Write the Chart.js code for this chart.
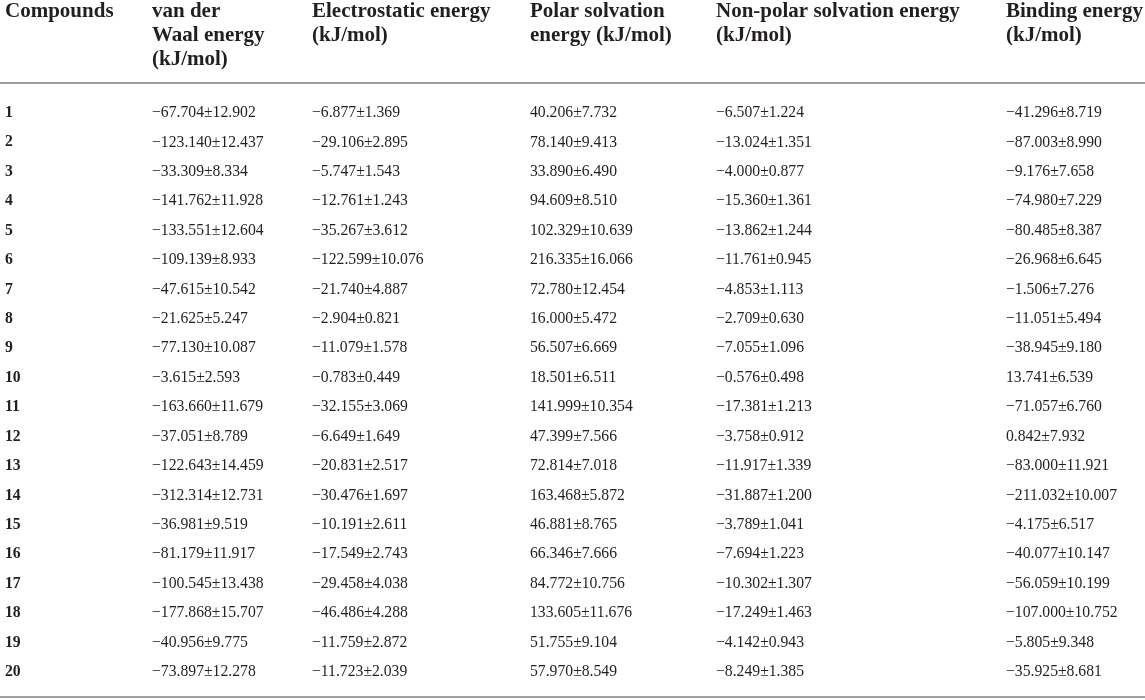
<!DOCTYPE html>
<html>
<head>
<meta charset="utf-8">
<script src="https://cdn.jsdelivr.net/npm/chart.js@4/dist/chart.umd.min.js"></script>
<style>
  html, body { margin: 0; padding: 0; background: #fff; }
  canvas { display: block; }
</style>
</head>
<body>
<canvas id="table-chart" width="1145" height="700"></canvas>
<script>
// Datos de la tabla
const compounds = ['1','2','3','4','5','6','7','8','9','10','11','12','13','14','15','16','17','18','19','20'];

const headers = [
  ['Compounds'],
  ['van der', 'Waal energy', '(kJ/mol)'],
  ['Electrostatic energy', '(kJ/mol)'],
  ['Polar solvation', 'energy (kJ/mol)'],
  ['Non-polar solvation energy', '(kJ/mol)'],
  ['Binding energy', '(kJ/mol)']
];

const vdwMean = [-67.704, -123.140, -33.309, -141.762, -133.551, -109.139, -47.615, -21.625, -77.130, -3.615,
  -163.660, -37.051, -122.643, -312.314, -36.981, -81.179, -100.545, -177.868, -40.956, -73.897];
const vdwSd = [12.902, 12.437, 8.334, 11.928, 12.604, 8.933, 10.542, 5.247, 10.087, 2.593,
  11.679, 8.789, 14.459, 12.731, 9.519, 11.917, 13.438, 15.707, 9.775, 12.278];

const elecMean = [-6.877, -29.106, -5.747, -12.761, -35.267, -122.599, -21.740, -2.904, -11.079, -0.783,
  -32.155, -6.649, -20.831, -30.476, -10.191, -17.549, -29.458, -46.486, -11.759, -11.723];
const elecSd = [1.369, 2.895, 1.543, 1.243, 3.612, 10.076, 4.887, 0.821, 1.578, 0.449,
  3.069, 1.649, 2.517, 1.697, 2.611, 2.743, 4.038, 4.288, 2.872, 2.039];

const polarMean = [40.206, 78.140, 33.890, 94.609, 102.329, 216.335, 72.780, 16.000, 56.507, 18.501,
  141.999, 47.399, 72.814, 163.468, 46.881, 66.346, 84.772, 133.605, 51.755, 57.970];
const polarSd = [7.732, 9.413, 6.490, 8.510, 10.639, 16.066, 12.454, 5.472, 6.669, 6.511,
  10.354, 7.566, 7.018, 5.872, 8.765, 7.666, 10.756, 11.676, 9.104, 8.549];

const nonPolarMean = [-6.507, -13.024, -4.000, -15.360, -13.862, -11.761, -4.853, -2.709, -7.055, -0.576,
  -17.381, -3.758, -11.917, -31.887, -3.789, -7.694, -10.302, -17.249, -4.142, -8.249];
const nonPolarSd = [1.224, 1.351, 0.877, 1.361, 1.244, 0.945, 1.113, 0.630, 1.096, 0.498,
  1.213, 0.912, 1.339, 1.200, 1.041, 1.223, 1.307, 1.463, 0.943, 1.385];

const bindMean = [-41.296, -87.003, -9.176, -74.980, -80.485, -26.968, -1.506, -11.051, -38.945, 13.741,
  -71.057, 0.842, -83.000, -211.032, -4.175, -40.077, -56.059, -107.000, -5.805, -35.925];
const bindSd = [8.719, 8.990, 7.658, 7.229, 8.387, 6.645, 7.276, 5.494, 9.180, 6.539,
  6.760, 7.932, 11.921, 10.007, 6.517, 10.147, 10.199, 10.752, 9.348, 8.681];

// Posición izquierda de cada columna (en unidades del eje x, 0..1145)
const columnX = [5, 152, 312, 530, 716, 1006];

const series = [
  [vdwMean, vdwSd],
  [elecMean, elecSd],
  [polarMean, polarSd],
  [nonPolarMean, nonPolarSd],
  [bindMean, bindSd]
];

function fmt(mean, sd) {
  const m = mean < 0 ? '\u2212' + Math.abs(mean).toFixed(3) : mean.toFixed(3);
  return m + '\u00b1' + sd.toFixed(3);
}

const TEXT = '#231f20';
const RULE = '#a0a0a0';

// Columna de compuestos + columnas de valores como datasets invisibles
const datasets = [{
  label: headers[0][0],
  data: compounds.map(c => ({ x: columnX[0], y: c })),
  texts: compounds,
  bold: true,
  pointRadius: 0
}];
series.forEach((s, i) => {
  datasets.push({
    label: headers[i + 1].join(' '),
    data: compounds.map(c => ({ x: columnX[i + 1], y: c })),
    texts: s[0].map((m, j) => fmt(m, s[1][j])),
    bold: false,
    pointRadius: 0
  });
});

const tablePlugin = {
  id: 'tablePlugin',
  afterDatasetsDraw(chart) {
    const ctx = chart.ctx;
    const xs = chart.scales.x;
    const area = chart.chartArea;
    ctx.save();
    ctx.fillStyle = TEXT;
    ctx.textBaseline = 'middle';
    ctx.textAlign = 'left';

    // celdas
    chart.data.datasets.forEach((ds, i) => {
      const meta = chart.getDatasetMeta(i);
      ctx.font = (ds.bold ? 'bold ' : '') + '15.7px "Liberation Serif", "Times New Roman", serif';
      meta.data.forEach((pt, j) => {
        ctx.fillText(ds.texts[j], pt.x, pt.y);
      });
    });

    // encabezados
    ctx.font = 'bold 21px "Liberation Serif", "Times New Roman", serif';
    ctx.textBaseline = 'alphabetic';
    headers.forEach((lines, i) => {
      lines.forEach((line, k) => {
        ctx.fillText(line, xs.getPixelForValue(columnX[i]), area.top - 96 + k * 24);
      });
    });

    // líneas horizontales
    ctx.strokeStyle = RULE;
    ctx.lineWidth = 2;
    ctx.beginPath();
    ctx.moveTo(0, area.top - 30);
    ctx.lineTo(chart.width, area.top - 30);
    ctx.moveTo(0, area.bottom + 25);
    ctx.lineTo(chart.width, area.bottom + 25);
    ctx.stroke();
    ctx.restore();
  }
};

document.addEventListener('DOMContentLoaded', () => {
  new Chart(document.getElementById('table-chart'), {
    type: 'scatter',
    data: { datasets: datasets },
    options: {
      responsive: false,
      animation: false,
      devicePixelRatio: 1,
      layout: { padding: { top: 113, bottom: 28, left: 0, right: 0 } },
      plugins: { legend: { display: false }, tooltip: { enabled: false } },
      scales: {
        x: { type: 'linear', min: 0, max: 1145, display: false },
        y: { type: 'category', labels: compounds, offset: false, display: false }
      }
    },
    plugins: [tablePlugin]
  });
});
</script>
</body>
</html>
